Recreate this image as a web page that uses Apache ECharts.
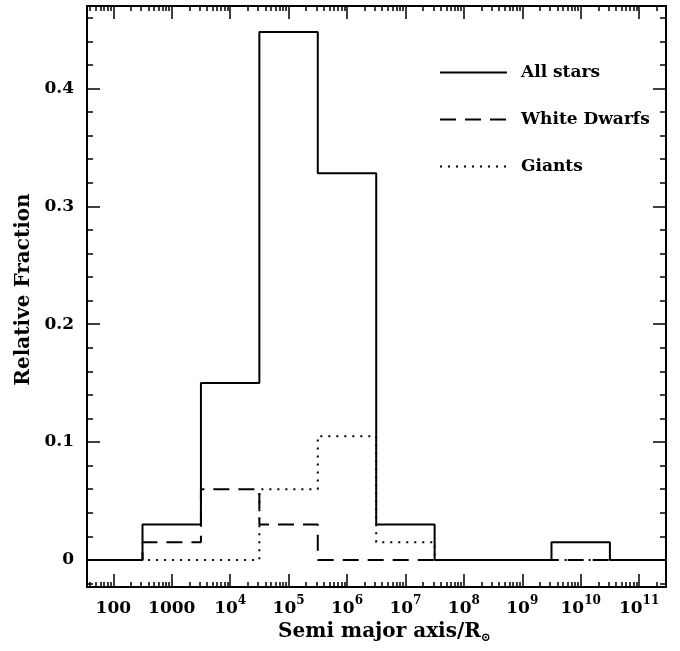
<!DOCTYPE html>
<html>
<head>
<meta charset="utf-8">
<script src="https://cdn.jsdelivr.net/npm/echarts@6/dist/echarts.min.js"></script>
<style>html,body{margin:0;padding:0;background:#fff}#c{width:680px;height:651px}</style>
</head>
<body>
<div id="c"></div>
<script>
// log10(semi major axis / Rsun) bin centres (1 dex wide bins)
const binCenters = [2, 3, 4, 5, 6, 7, 8, 9, 10, 11];
const allStars    = [0, 0.03, 0.15, 0.448, 0.328, 0.03, 0, 0, 0.015, 0];
const whiteDwarfs = [0, 0.015, 0.06, 0.03, 0, 0, 0, 0, 0, 0];
const giants      = [0, 0, 0, 0.06, 0.105, 0.015, 0, 0, 0, 0];
const seriesNames = ['All stars', 'White Dwarfs', 'Giants'];
const xMajorTicks = [2, 3, 4, 5, 6, 7, 8, 9, 10, 11];
const yMajorTicks = [0, 0.1, 0.2, 0.3, 0.4];
const yMinorTicks = [-0.02, 0.02, 0.04, 0.06, 0.08, 0.12, 0.14, 0.16, 0.18, 0.22, 0.24, 0.26, 0.28, 0.32, 0.34, 0.36, 0.38, 0.42, 0.44, 0.46];

const X_MIN = 1.55, X_MAX = 11.46, Y_MIN = -0.023, Y_MAX = 0.47;
const FONT = 'DejaVu Serif';
const FW = 'bold';

const xMinorTicks = [];
for (let d = 1; d <= 11; d++) {
  for (let m = 2; m <= 9; m++) {
    const v = d + Math.log10(m);
    if (v > X_MIN && v < X_MAX) xMinorTicks.push(v);
  }
}

function histSteps(vals) {
  const pts = [];
  binCenters.forEach((c, i) => {
    pts.push([c - 0.5, vals[i]]);
    pts.push([c + 0.5, vals[i]]);
  });
  return pts;
}

function xLabel(v) {
  const e = Math.round(v);
  if (e === 2) return '{b|100}';
  if (e === 3) return '{b|1000}';
  return '{b|10}{s|' + e + '}';
}

const chart = echarts.init(document.getElementById('c'), null, {renderer: 'canvas'});

function xAxisDef(pos, major, labels) {
  return {
    type: 'value', position: pos, min: X_MIN, max: X_MAX,
    axisLine: {show: major, onZero: false, lineStyle: {color: '#000', width: 2}},
    axisTick: {show: true, inside: true, length: major ? 13 : 5,
      customValues: major ? xMajorTicks : xMinorTicks,
      lineStyle: {color: '#000', width: 1.5}},
    axisLabel: {show: labels, customValues: xMajorTicks, margin: 8,
      formatter: xLabel,
      rich: {
        b: {fontFamily: FONT, fontWeight: FW, fontSize: 17, color: '#000', lineHeight: 22, verticalAlign: 'bottom'},
        s: {fontFamily: FONT, fontWeight: FW, fontSize: 12, color: '#000', lineHeight: 12, verticalAlign: 'top'}
      }},
    splitLine: {show: false},
    name: labels ? '{t|Semi major axis/R}{sub|⊙}' : '',
    nameLocation: 'middle', nameGap: 33,
    nameTextStyle: {padding: [0, 0, 0, 16], rich: {
      t: {fontFamily: FONT, fontWeight: FW, fontSize: 20, color: '#000', lineHeight: 24},
      sub: {fontFamily: FONT, fontWeight: FW, fontSize: 12, color: '#000', lineHeight: 12, verticalAlign: 'bottom', padding: [8, 0, 0, 0]}
    }}
  };
}
function yAxisDef(pos, major, labels) {
  return {
    type: 'value', position: pos, min: Y_MIN, max: Y_MAX,
    axisLine: {show: major, onZero: false, lineStyle: {color: '#000', width: 2}},
    axisTick: {show: true, inside: true, length: major ? 13 : 6,
      customValues: major ? yMajorTicks : yMinorTicks,
      lineStyle: {color: '#000', width: 1.5}},
    axisLabel: {show: labels, customValues: yMajorTicks, margin: 13,
      fontFamily: FONT, fontWeight: FW, fontSize: 17, color: '#000',
      formatter: v => (Math.abs(v) < 1e-9 ? '0' : v.toFixed(1))},
    splitLine: {show: false},
    name: labels ? 'Relative Fraction' : '',
    nameLocation: 'middle', nameGap: 52,
    nameTextStyle: {fontFamily: FONT, fontWeight: FW, fontSize: 20, color: '#000', padding: [0, 0, 0, 14]}
  };
}

const styles = [
  {type: 'solid', width: 2},
  {type: [16, 9], width: 2},
  {type: [2, 6], width: 2}
];
const datasets = [allStars, whiteDwarfs, giants];

chart.setOption({
  animation: false,
  backgroundColor: '#fff',
  grid: {left: 87, right: 14, top: 6, bottom: 64, show: false},
  xAxis: [
    xAxisDef('bottom', true, true),
    xAxisDef('bottom', false, false),
    xAxisDef('top', true, false),
    xAxisDef('top', false, false)
  ],
  yAxis: [
    yAxisDef('left', true, true),
    yAxisDef('left', false, false),
    yAxisDef('right', true, false),
    yAxisDef('right', false, false)
  ],
  legend: {
    orient: 'vertical', left: 434, top: 59,
    itemWidth: 67, itemHeight: 14, itemGap: 30,
    data: seriesNames,
    itemStyle: {opacity: 0, borderWidth: 0},
    textStyle: {fontFamily: FONT, fontWeight: FW, fontSize: 17, color: '#000', padding: [0, 0, 0, 9]}
  },
  series: seriesNames.map((n, i) => ({
    name: n, type: 'line', xAxisIndex: 0, yAxisIndex: 0,
    data: histSteps(datasets[i]),
    symbol: 'none', showSymbol: false, clip: true,
    lineStyle: {color: '#000', width: styles[i].width, type: styles[i].type},
    itemStyle: {color: '#000'},
    z: 3 - i
  }))
});
</script>
</body>
</html>
